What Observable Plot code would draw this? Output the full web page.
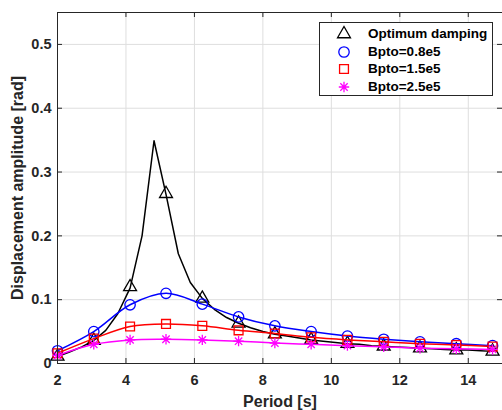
<!DOCTYPE html>
<html>
<head>
<meta charset="utf-8">
<script src="https://cdn.jsdelivr.net/npm/d3@7"></script>
<script src="https://cdn.jsdelivr.net/npm/@observablehq/plot@0.6"></script>
<style>
  html, body { margin: 0; padding: 0; background: #fff; }
  #wrap { position: relative; width: 502px; height: 410px; overflow: hidden; font-family: "Liberation Sans", Arial, sans-serif; }
  #legend { position: absolute; left: 319px; top: 22px; width: 174px; height: 74px; border: 1px solid #262626; background: #fff; box-sizing: border-box; }
  .lrow { position: absolute; left: 0; height: 18px; width: 100%; }
  .lrow svg { position: absolute; left: 15px; top: 0; }
  .lrow span { position: absolute; left: 48px; top: 0; line-height: 18px; font-size: 13.5px; font-weight: bold; color: #000; white-space: nowrap; }
</style>
</head>
<body>
<div id="wrap"></div>
<script>
// ---- data ----
const period = [2, 3.06, 4.12, 5.17, 6.23, 7.29, 8.35, 9.41, 10.47, 11.53, 12.59, 13.65, 14.71];
const periodFine = [2, 2.35, 2.71, 3.06, 3.41, 3.76, 4.12, 4.47, 4.82, 5.17, 5.53, 5.88, 6.23, 6.58, 6.94, 7.29, 7.64, 8.0, 8.35, 8.7, 9.06, 9.41, 9.76, 10.12, 10.47, 10.82, 11.18, 11.53, 11.88, 12.24, 12.59, 12.94, 13.3, 13.65, 14.0, 14.36, 14.71];
const optimumFine = [0.011, 0.018, 0.026, 0.036, 0.052, 0.078, 0.118, 0.2, 0.349, 0.265, 0.172, 0.127, 0.102, 0.085, 0.072, 0.063, 0.056, 0.050, 0.046, 0.043, 0.040, 0.037, 0.035, 0.033, 0.031, 0.030, 0.028, 0.027, 0.026, 0.025, 0.024, 0.023, 0.022, 0.021, 0.021, 0.020, 0.019];
const optimumMarks = [0.011, 0.036, 0.12, 0.266, 0.102, 0.063, 0.046, 0.037, 0.031, 0.027, 0.024, 0.021, 0.019];
const bpto08 = [0.02, 0.05, 0.092, 0.11, 0.093, 0.073, 0.059, 0.05, 0.043, 0.038, 0.034, 0.031, 0.028];
const bpto15 = [0.016, 0.039, 0.058, 0.062, 0.059, 0.052, 0.047, 0.041, 0.037, 0.034, 0.031, 0.029, 0.0265];
const bpto25 = [0.0125, 0.03, 0.037, 0.038, 0.037, 0.035, 0.032, 0.030, 0.028, 0.026, 0.024, 0.023, 0.022];
const seriesNames = ["Optimum damping", "Bpto=0.8e5", "Bpto=1.5e5", "Bpto=2.5e5"];
const seriesColors = ["#000000", "#0000ff", "#ff0000", "#ff00ff"];
const xTicks = [2, 4, 6, 8, 10, 12, 14];
const yTicks = [0, 0.1, 0.2, 0.3, 0.4, 0.5];
const xLabel = "Period [s]";
const yLabel = "Displacement amplitude [rad]";

// ---- tables ----
const fineTable = periodFine.map((p, i) => ({period: p, value: optimumFine[i]}));
const markTables = [optimumMarks, bpto08, bpto15, bpto25].map(vals => period.map((p, i) => ({period: p, value: vals[i]})));

// 8-armed asterisk like MATLAB '*'
const asterisk8 = {
  draw(ctx, size) {
    const r = Math.sqrt(size / Math.PI);
    const d = r * Math.SQRT1_2;
    ctx.moveTo(-r, 0); ctx.lineTo(r, 0);
    ctx.moveTo(0, -r); ctx.lineTo(0, r);
    ctx.moveTo(-d, -d); ctx.lineTo(d, d);
    ctx.moveTo(-d, d); ctx.lineTo(d, -d);
  }
};
const symbols = ["triangle", "circle", "square", asterisk8];
const radii = [4.8, 5.2, 5, 5.2];

const W = 502, H = 410, mT = 12, mB = 47, mL = 57, mR = 0;
const frameH = H - mT - mB, frameW = W - mL - mR;
const axisColor = "#262626";

const marks = [
  Plot.gridX(xTicks, {stroke: "#dedede", strokeOpacity: 1}),
  Plot.gridY(yTicks, {stroke: "#dedede", strokeOpacity: 1}),
  // series
  Plot.line(fineTable, {x: "period", y: "value", stroke: seriesColors[0], strokeWidth: 1.5}),
  Plot.dot(markTables[0], {x: "period", y: "value", symbol: symbols[0], r: radii[0], stroke: seriesColors[0], strokeWidth: 1.3, fill: "none"}),
];
for (let k = 1; k < 4; k++) {
  marks.push(Plot.line(markTables[k], {x: "period", y: "value", stroke: seriesColors[k], strokeWidth: 1.5, curve: "catmull-rom"}));
  marks.push(Plot.dot(markTables[k], {x: "period", y: "value", symbol: symbols[k], r: radii[k], stroke: seriesColors[k], strokeWidth: 1.3, fill: "none"}));
}
marks.push(
  // inward ticks
  Plot.tickX(xTicks, {x: d => d, insetTop: frameH - 5, stroke: axisColor}),
  Plot.tickX(xTicks, {x: d => d, insetBottom: frameH - 5, stroke: axisColor}),
  Plot.tickY(yTicks, {y: d => d, insetRight: frameW - 5, stroke: axisColor}),
  Plot.tickY(yTicks, {y: d => d, insetLeft: frameW - 5, stroke: axisColor}),
  Plot.frame({stroke: axisColor, strokeWidth: 1}),
  Plot.axisX(xTicks, {tickSize: 0, tickPadding: 11, fontSize: 14.5, fontWeight: "bold", fill: axisColor, label: null}),
  Plot.axisY(yTicks, {tickSize: 0, tickPadding: 6, fontSize: 14.5, fontWeight: "bold", fill: axisColor, label: null, tickFormat: d => String(d)}),
  Plot.text([xLabel], {text: d => d, frameAnchor: "bottom", textAnchor: "middle", lineAnchor: "middle", dy: 38.5, fontSize: 16, fontWeight: "bold", fill: axisColor}),
  Plot.text([yLabel], {text: d => d, frameAnchor: "left", textAnchor: "middle", lineAnchor: "middle", dx: -40, rotate: -90, fontSize: 16, fontWeight: "bold", fill: axisColor})
);

const chart = Plot.plot({
  width: W, height: H,
  marginTop: mT, marginBottom: mB, marginLeft: mL, marginRight: mR,
  style: {fontFamily: "'Liberation Sans', Arial, sans-serif", background: "#fff", overflow: "visible"},
  x: {domain: [2, 15]},
  y: {domain: [0, 0.55]},
  marks
});
const wrap = document.getElementById("wrap");
wrap.appendChild(chart);

// ---- legend (inside the axes, like MATLAB) ----
const legend = document.createElement("div");
legend.id = "legend";
const rowTops = [2, 20, 37, 55];
seriesNames.forEach((name, i) => {
  const row = document.createElement("div");
  row.className = "lrow";
  row.style.top = rowTops[i] + "px";
  const svg = d3.create("svg").attr("width", 18).attr("height", 18);
  const size = Math.PI * radii[i] * radii[i];
  svg.append("path")
    .attr("transform", "translate(9,9)")
    .attr("d", d3.symbol(typeof symbols[i] === "string" ? {triangle: d3.symbolTriangle, circle: d3.symbolCircle, square: d3.symbolSquare}[symbols[i]] : symbols[i], size)())
    .attr("fill", "none").attr("stroke", seriesColors[i]).attr("stroke-width", 1.3);
  row.appendChild(svg.node());
  const span = document.createElement("span");
  span.textContent = name;
  row.appendChild(span);
  legend.appendChild(row);
});
wrap.appendChild(legend);
</script>
</body>
</html>
